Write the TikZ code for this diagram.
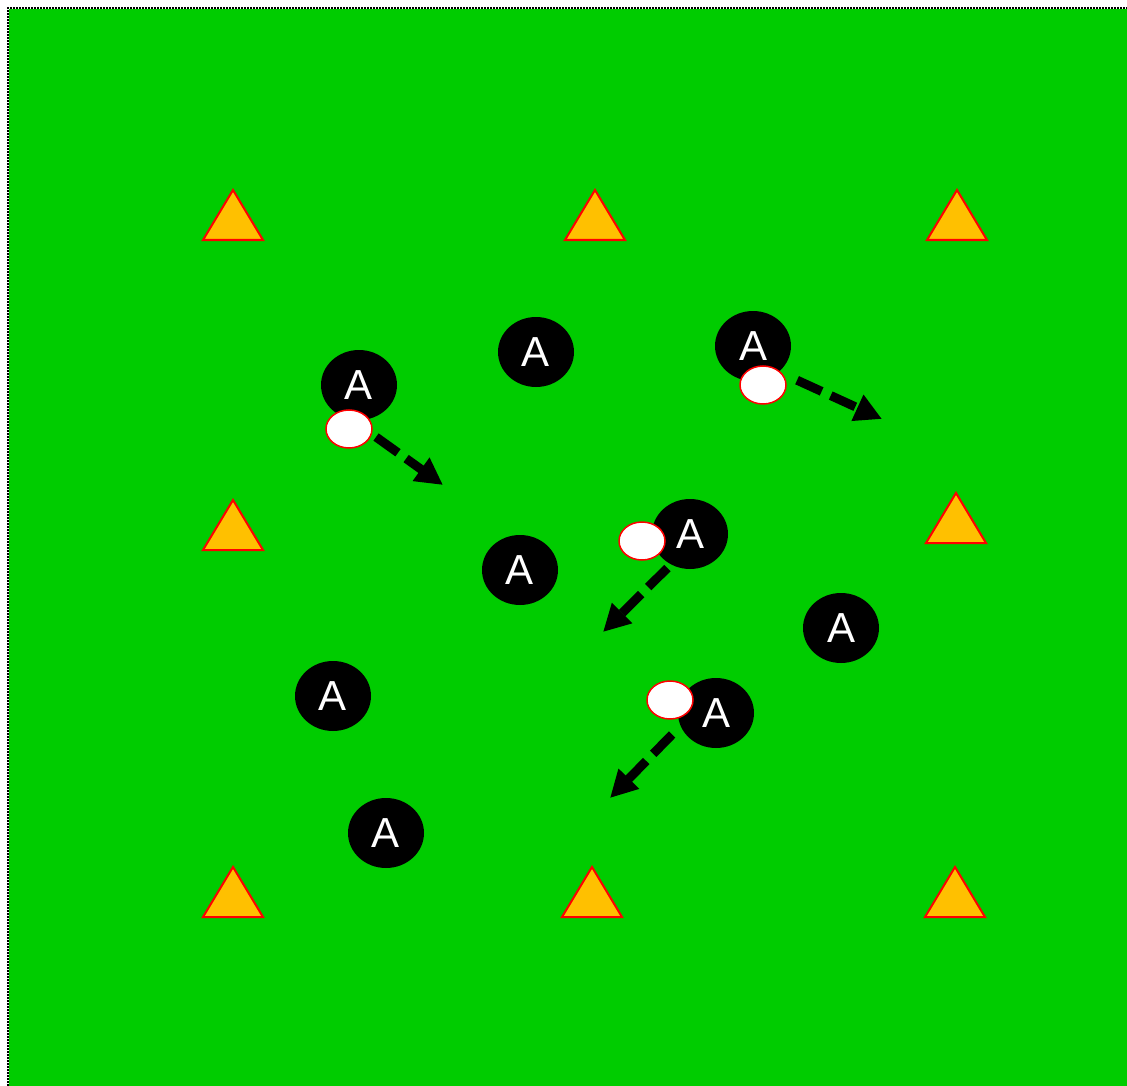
\documentclass[tikz,border=0pt]{standalone}
\usepackage{fontspec}
\setsansfont{Liberation Sans}
\usetikzlibrary{arrows.meta,shapes.geometric}

\definecolor{pitch}{HTML}{00CC00}
\definecolor{conefill}{HTML}{FFC000}
\definecolor{conered}{HTML}{FF0000}

\begin{document}
\begin{tikzpicture}[x=1pt, y=-1pt,
		cone/.style={fill=conefill, draw=conered, line width=2pt, line join=miter},
		player/.style={ellipse, fill=black, minimum width=76pt, minimum height=70pt, inner sep=0pt,
			text=white, font=\sffamily\fontsize{42}{42}\selectfont},
		ball/.style={ellipse, fill=white, draw=conered, line width=1.5pt, minimum width=46pt, minimum height=38pt, inner sep=0pt},
		pass/.style={line width=9pt, dash pattern=on 27pt off 10pt,
			-{Triangle[length=27pt,width=27pt]}}]
		
		\useasboundingbox (0,0) rectangle (1127,1086);
		
		% pitch
		\fill[pitch] (7.5,8.5) rectangle (1127,1086);
		\draw[white, line width=2pt] (7.5,1086) -- (7.5,8.5) -- (1127,8.5);
		\draw[black, line width=2pt, dash pattern=on 2pt off 1pt] (7.5,1086) -- (7.5,8.5) -- (1127,8.5);
		
		% cones
		\draw[cone] (203,240) -- (233,190) -- (263,240) -- cycle;
		\draw[cone] (565,240) -- (595,190) -- (625,240) -- cycle;
		\draw[cone] (927,240) -- (957,190) -- (987,240) -- cycle;
		\draw[cone] (203,550) -- (233,500) -- (263,550) -- cycle;
		\draw[cone] (926,543) -- (956,493) -- (986,543) -- cycle;
		\draw[cone] (203,917) -- (233,867) -- (263,917) -- cycle;
		\draw[cone] (562,917) -- (592,867) -- (622,917) -- cycle;
		\draw[cone] (925,917) -- (955,867) -- (985,917) -- cycle;
		
		% players
		\node[player] (p1) at (359,385) {A};
		\node[player] (p2) at (536,352) {A};
		\node[player] (p3) at (753,346) {A};
		\node[player] (p4) at (520,570) {A};
		\node[player] (p5) at (690,534) {A};
		\node[player] (p6) at (841,628) {A};
		\node[player] (p7) at (333,696) {A};
		\node[player] (p8) at (716,713) {A};
		\node[player] (p9) at (386,833) {A};
		
		% passes
		\coordinate (t1) at (443,485);
		\coordinate (t2) at (882,419);
		\coordinate (t3) at (603,632);
		\coordinate (t4) at (610,798);
		\draw[pass, shorten <=30pt] (p1.-102) -- (t1);
		\draw[pass, shorten <=20pt] (p3.-45) -- (t2);
		\draw[pass, shorten <=5pt] (p5.-122) -- (t3);
		\draw[pass, shorten <=12pt] (p8.-160) -- (t4);
		
		% balls
		\node[ball] (b1) at (349,429) {};
		\node[ball] (b2) at (763,385) {};
		\node[ball] (b3) at (642,541) {};
		\node[ball] (b4) at (670,700) {};
		
	\end{tikzpicture}
\end{document}
